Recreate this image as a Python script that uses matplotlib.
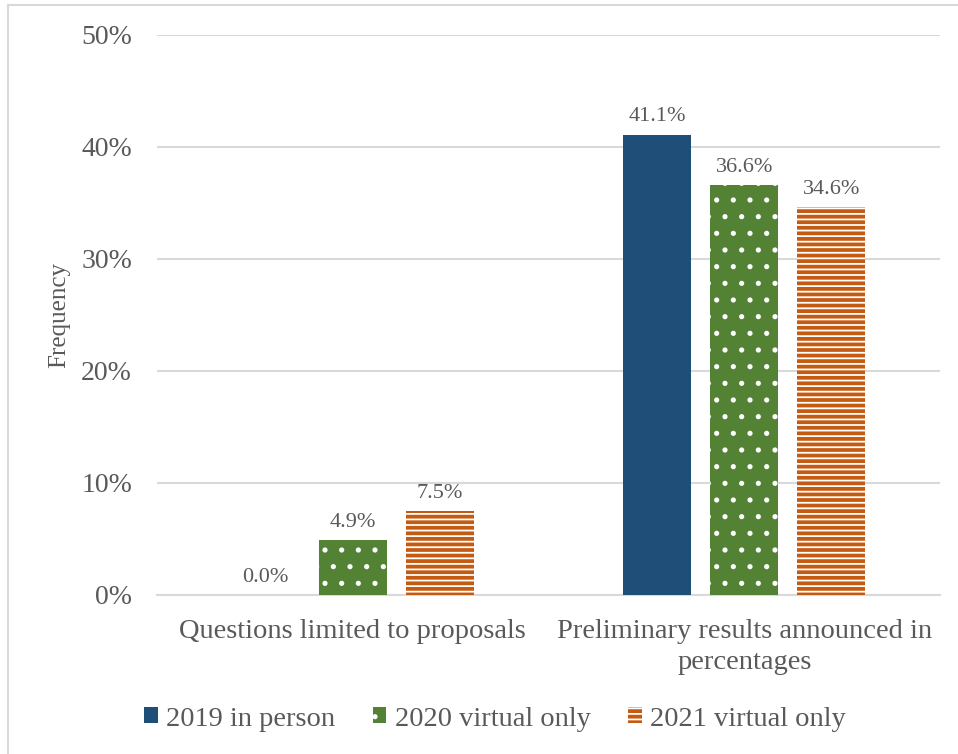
import numpy as np
import matplotlib
matplotlib.use("Agg")
import matplotlib.pyplot as plt
from matplotlib.lines import Line2D
from matplotlib.ticker import FuncFormatter

# survey data, percent of responses
categories = ["Questions limited to proposals",
              "Preliminary results announced in\npercentages"]
years = ["2019 in person", "2020 virtual only", "2021 virtual only"]
values = {
    "2019 in person": [0.0, 41.1],
    "2020 virtual only": [4.9, 36.6],
    "2021 virtual only": [7.5, 34.6],
}
colors = ["#1F4E79", "#548235", "#C55A11"]
hatches = [None, ".", "---"]

plt.rcParams["font.family"] = ["Liberation Serif", "DejaVu Serif"]
plt.rcParams["hatch.linewidth"] = 1.3
text_grey = "#595959"
grid_grey = "#D9D9D9"

fig = plt.figure(figsize=(9.58, 7.54), dpi=100)
ax = fig.add_axes([0.1639, 0.2109, 0.8173, 0.7427])

x = np.arange(len(categories))
width = 0.174
step = 0.2225
for i, (name, col, h) in enumerate(zip(years, colors, hatches)):
    if h is None:
        bars = ax.bar(x + (i - 1) * step, values[name], width, color=col,
                      label=name, zorder=3)
    else:
        bars = ax.bar(x + (i - 1) * step, values[name], width, facecolor=col,
                      edgecolor="white", hatch=h, linewidth=0,
                      label=name, zorder=3)
    ax.bar_label(bars, labels=[f"{v:.1f}%" for v in values[name]],
                 padding=6, fontsize=16, color=text_grey)

ax.set_xlim(-0.5, 1.5)
ax.set_ylim(0, 50)
ax.set_yticks(np.arange(0, 51, 10))
ax.yaxis.set_major_formatter(FuncFormatter(lambda v, p: f"{v:.0f}%"))
ax.set_xticks(x, categories)
for lab in ax.get_xticklabels():
    lab.set_linespacing(1.35)
ax.grid(axis="y", color=grid_grey, linewidth=1.5, zorder=0)
for s in ["top", "right", "left"]:
    ax.spines[s].set_visible(False)
ax.spines["bottom"].set_color(grid_grey)
ax.spines["bottom"].set_linewidth(1.5)
ax.tick_params(axis="y", length=0, pad=18, labelsize=20, labelcolor=text_grey)
ax.tick_params(axis="x", length=0, pad=17, labelsize=20.5, labelcolor=text_grey)
ax.set_ylabel("Frequency", fontsize=18, color=text_grey, labelpad=8)

fig.legend(loc="center", bbox_to_anchor=(495 / 958, 1 - 719 / 754), ncol=3,
           frameon=False, fontsize=20.5, handlelength=0.49, handleheight=0.49,
           handletextpad=0.3, columnspacing=1.3, labelcolor=text_grey)

# chart area border (left and top edges only)
fig.add_artist(Line2D([8 / 958, 8 / 958], [0, 1 - 5 / 754], color=grid_grey,
                      linewidth=1.5, transform=fig.transFigure))
fig.add_artist(Line2D([8 / 958, 1], [1 - 5 / 754, 1 - 5 / 754],
                      color=grid_grey, linewidth=1.5,
                      transform=fig.transFigure))

fig.savefig("out.png", dpi=100)
